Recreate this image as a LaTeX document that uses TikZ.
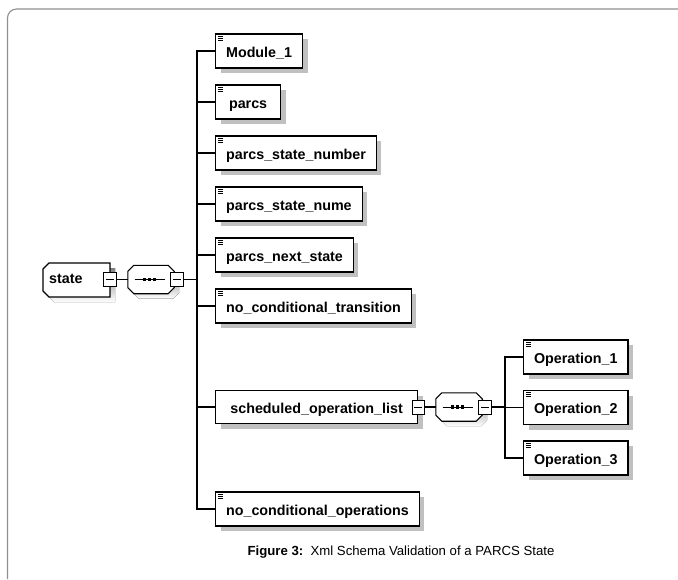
\documentclass[tikz,border=0pt]{standalone}
\usepackage{fontspec}
\setmainfont{Liberation Sans}
\usetikzlibrary{shadows}
\definecolor{shade}{HTML}{C0C0C0}
\definecolor{framegray}{HTML}{909090}
\newcommand\elemfont{\fontsize{14.3}{16}\selectfont\bfseries}
\newcommand\capfont{\fontsize{13.2}{15}\selectfont}
% octagonal sequence compositor drawn around an empty node #1
\newcommand\seqbody[1]{%
  \fill[shade] ([xshift=11pt,yshift=-5pt]#1.north west) -- ([xshift=-1pt,yshift=-5pt]#1.north east)
    -- ([xshift=5pt,yshift=-11pt]#1.north east) -- ([xshift=5pt,yshift=1pt]#1.south east)
    -- ([xshift=-1pt,yshift=-5pt]#1.south east) -- ([xshift=11pt,yshift=-5pt]#1.south west)
    -- ([xshift=5pt,yshift=1pt]#1.south west) -- ([xshift=5pt,yshift=-11pt]#1.north west) -- cycle;
  \draw[line width=1.1pt, fill=white] ([xshift=6pt]#1.north west) -- ([xshift=-6pt]#1.north east)
    -- ([yshift=-6pt]#1.north east) -- ([yshift=6pt]#1.south east)
    -- ([xshift=-6pt]#1.south east) -- ([xshift=6pt]#1.south west)
    -- ([yshift=6pt]#1.south west) -- ([yshift=-6pt]#1.north west) -- cycle;
  \draw[line width=1pt] ([xshift=-16.5pt]#1.center) -- ([xshift=13.5pt]#1.center);
  \foreach \dx in {-6.5,-1.5,3.5}{
    \fill ([xshift=\dx pt]#1.center) +(-1.8pt,-1.8pt) rectangle +(1.8pt,1.8pt);}
}
\begin{document}
\begin{tikzpicture}[x=1pt,y=-1pt,
  wire/.style={line width=1.2pt},
  elem/.style={draw, line width=1.2pt, fill=white, anchor=west,
    minimum height=34pt, minimum width=65pt, inner xsep=10.5pt, inner ysep=0pt,
    text height=12pt, text depth=0pt, font=\elemfont,
    drop shadow={shadow xshift=5pt, shadow yshift=-5pt, fill=shade, opacity=1}},
  leaf/.style={elem, path picture={
    \foreach \k in {2,4,6}{\draw[line width=0.7pt]
      ([xshift=2.5pt,yshift=-\k pt]path picture bounding box.north west) -- ++(5pt,0);}}},
  minus/.style={draw, line width=0.9pt, fill=white, minimum width=12.5pt,
    minimum height=14pt, inner sep=0pt, path picture={
    \draw[line width=0.9pt] ([xshift=2.5pt]path picture bounding box.west)
      -- ([xshift=-2.5pt]path picture bounding box.east);}},
  seqnode/.style={inner sep=0pt, minimum width=46pt, minimum height=28pt}
]
\useasboundingbox (0,0) rectangle (678,579);

% page frame
\draw[framegray, line width=1.1pt, rounded corners=9pt] (7.5,579) -- (7.5,9) -- (678,9);

% root element
\fill[shade] (54,268) -- (115,268) -- (115,302) -- (54,302) -- (48,296) -- (48,274) -- cycle;
\draw[line width=1.2pt, fill=white] (49,263) -- (110,263) -- (110,297) -- (49,297) -- (43,291) -- (43,269) -- cycle;
\node[anchor=west, font=\elemfont, text height=12pt, text depth=0pt, inner sep=0pt] (state) at (49,277.5) {state};
\node[minus] (statem) at (110,279.5) {};

% first sequence
\node[seqnode] (seq1) at (151,279.5) {};
\seqbody{seq1}
\node[minus] (seq1m) at (177,279.5) {};
\coordinate (b1) at (197,279.5);

% child elements
\node[leaf] (m1) at (215,51) {Module\_1};
\node[leaf] (parcs) at (215,102) {parcs};
\node[leaf] (psn) at (215,153) {parcs\_state\_number};
\node[leaf] (psnm) at (215,204) {parcs\_state\_nume};
\node[leaf] (pns) at (215,255) {parcs\_next\_state};
\node[leaf] (nct) at (215,306) {no\_conditional\_transition};
\node[elem, minimum height=33pt, minimum width=202pt] (sol) at (215,407) {scheduled\_operation\_list};
\node[leaf] (nco) at (215,509) {no\_conditional\_operations};
\node[minus] (solm) at (sol.east) {};

% second sequence
\node[seqnode] (seq2) at (459,407) {};
\seqbody{seq2}
\node[minus] (seq2m) at (485,407) {};
\coordinate (b2) at (505,407);

\node[leaf] (op1) at (523,357) {Operation\_1};
\node[leaf] (op2) at (523,407.5) {Operation\_2};
\node[leaf] (op3) at (523,458) {Operation\_3};

% connectors
\draw[wire] (statem.east) -- (seq1.west);
\draw[wire] (seq1m.east) -- (b1);
\foreach \e in {m1,parcs,psn,psnm,pns,nct,sol,nco}{\draw[wire] (b1) |- (\e.west);}
\draw[wire] (solm.east) -- (seq2.west);
\draw[wire] (seq2m.east) -- (b2);
\foreach \e in {op1,op2,op3}{\draw[wire] (b2) |- (\e.west);}

% caption
\node[font=\capfont] (cap) at (401,552) {\textbf{Figure 3:}\hspace{0.55em}Xml Schema Validation of a PARCS State};
\end{tikzpicture}
\end{document}
